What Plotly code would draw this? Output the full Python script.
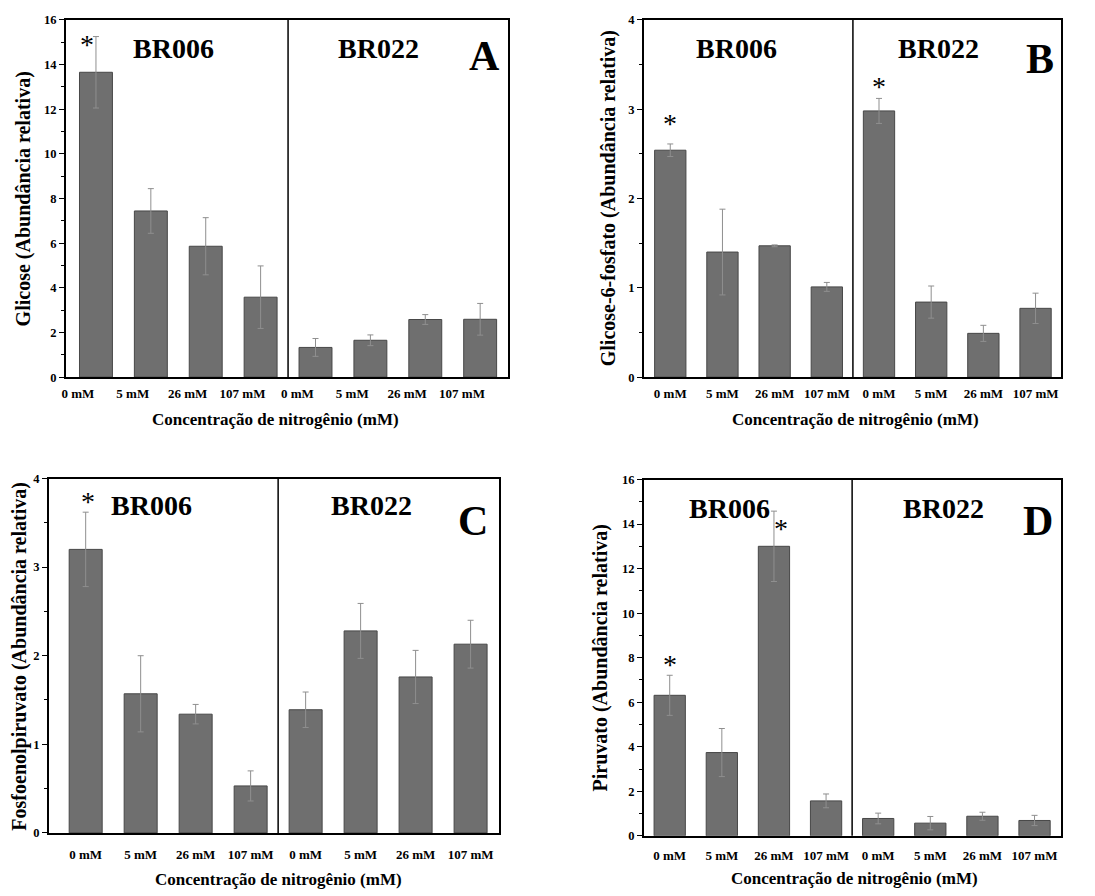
import plotly.graph_objects as go

# ---- data ----
concentracoes = ["0 mM", "5 mM", "26 mM", "107 mM", "0 mM", "5 mM", "26 mM", "107 mM"]

glicose = [13.65, 7.44, 5.86, 3.58, 1.33, 1.65, 2.58, 2.59]
glicose_err = [1.60, 1.00, 1.28, 1.40, 0.40, 0.24, 0.22, 0.71]

glicose6p = [2.54, 1.40, 1.47, 1.01, 2.98, 0.84, 0.49, 0.77]
glicose6p_err = [0.07, 0.48, 0.01, 0.05, 0.14, 0.18, 0.09, 0.17]

fosfoenolpiruvato = [3.20, 1.57, 1.34, 0.53, 1.39, 2.28, 1.76, 2.13]
fosfoenolpiruvato_err = [0.42, 0.43, 0.11, 0.17, 0.20, 0.31, 0.30, 0.27]

piruvato = [6.31, 3.74, 13.00, 1.57, 0.78, 0.57, 0.88, 0.69]
piruvato_err = [0.90, 1.08, 1.58, 0.31, 0.24, 0.30, 0.18, 0.23]

# significance marks: (bar index, x nudge, height)
sig_a = [(0, -0.17, 14.9)]
sig_b = [(0, 0.0, 2.84), (4, 0.0, 3.25)]
sig_c = [(0, 0.05, 3.74)]
sig_d = [(0, 0.0, 7.69), (2, 0.13, 13.79)]

W, H = 1095, 896
FONT = "Liberation Serif"
BAR_FILL = "#6f6f6f"
BAR_EDGE = "#474747"
ERR_COLOR = "#8f8f8f"


def fx(px):
    return px / W


def fy(py):
    return 1 - py / H


panels = [
    dict(vals=glicose, err=glicose_err, sig=sig_a, letter="A",
         ytitle="Glicose (Abundância relativa)",
         box=(62, 13, 506, 376), xr=[-0.55, 7.51], tshift=-0.33, standoff=4,
         ymax=16, dtick=2, minor=1,
         letter_xy=(482, 50), br006_xy=(170, 42), br022_xy=(376, 42),
         ytitle_x=20, xtitle_xy=(272, 419)),
    dict(vals=glicose6p, err=glicose6p_err, sig=sig_b, letter="B",
         ytitle="Glicose-6-fosfato (Abundância relativa)",
         box=(642, 13, 1061, 376), xr=[-0.51, 7.49], tshift=0.0, standoff=4,
         ymax=4, dtick=1, minor=0.5,
         letter_xy=(1040, 53), br006_xy=(735, 42), br022_xy=(938, 42),
         ytitle_x=607, xtitle_xy=(855, 419)),
    dict(vals=fosfoenolpiruvato, err=fosfoenolpiruvato_err, sig=sig_c, letter="C",
         ytitle="Fosfoenolpiruvato (Abundância relativa)",
         box=(45, 479, 497, 839), xr=[-0.67, 7.52], tshift=0.0, standoff=9,
         ymax=4, dtick=1, minor=0.5,
         letter_xy=(471, 522), br006_xy=(148, 506), br022_xy=(369, 506),
         ytitle_x=16, xtitle_xy=(276, 886)),
    dict(vals=piruvato, err=piruvato_err, sig=sig_d, letter="D",
         ytitle="Piruvato (Abundância relativa)",
         box=(642, 480, 1061, 842), xr=[-0.5, 7.51], tshift=0.0, standoff=7,
         ymax=16, dtick=2, minor=1,
         letter_xy=(1038, 522), br006_xy=(728, 509), br022_xy=(943, 509),
         ytitle_x=599, xtitle_xy=(854, 885)),
]

fig = go.Figure()
annotations = []
shapes = []
positions = list(range(len(concentracoes)))

for i, p in enumerate(panels, start=1):
    sfx = "" if i == 1 else str(i)
    xa, ya = "x" + sfx, "y" + sfx
    x0, y0, x1, y1 = p["box"]

    fig.add_trace(go.Bar(
        x=positions, y=p["vals"], width=0.6,
        marker=dict(color=BAR_FILL, line=dict(color=BAR_EDGE, width=1)),
        error_y=dict(type="data", array=p["err"], visible=True,
                     color=ERR_COLOR, thickness=1, width=3),
        xaxis=xa, yaxis=ya, showlegend=False,
    ))

    fig.layout["xaxis" + sfx] = dict(
        domain=[fx(x0), fx(x1)], anchor=ya, range=p["xr"],
        tickmode="array",
        tickvals=[k + p["tshift"] for k in positions],
        ticktext=concentracoes,
        ticks="", showgrid=False, zeroline=False,
        showline=True, linecolor="black", linewidth=1.5, mirror=True,
        tickfont=dict(family=FONT, size=13, color="black", weight="bold"),
        ticklabelstandoff=p["standoff"],
    )
    fig.layout["yaxis" + sfx] = dict(
        domain=[fy(y1), fy(y0)], anchor=xa, range=[0, p["ymax"]],
        dtick=p["dtick"], ticks="outside", ticklen=5, tickwidth=1.2,
        tickcolor="black",
        minor=dict(dtick=p["minor"], ticks="outside", ticklen=3,
                   tickwidth=1.2, tickcolor="black", showgrid=False),
        showgrid=False, zeroline=False,
        showline=True, linecolor="black", linewidth=1.5, mirror=True,
        tickfont=dict(family=FONT, size=12.5, color="black", weight="bold"),
    )

    # separator between the two genotypes
    shapes.append(dict(type="line", xref=xa, yref=ya + " domain",
                       x0=3.5, x1=3.5, y0=0, y1=1,
                       line=dict(color="black", width=1.5)))

    # genotype labels and panel letter
    for txt, (tx, ty), size in (("BR006", p["br006_xy"], 28),
                                ("BR022", p["br022_xy"], 28),
                                (p["letter"], p["letter_xy"], 42)):
        annotations.append(dict(
            text=txt, x=fx(tx), y=fy(ty), xref="paper", yref="paper",
            xanchor="center", yanchor="middle", showarrow=False,
            font=dict(family=FONT, size=size, color="black", weight="bold")))

    # significance asterisks
    for idx, dx, yv in p["sig"]:
        annotations.append(dict(
            text="*", x=positions[idx] + dx, y=yv, xref=xa, yref=ya,
            xanchor="center", yanchor="middle", showarrow=False,
            font=dict(family=FONT, size=28, color="black")))

    # axis titles
    annotations.append(dict(
        text=p["ytitle"], x=fx(p["ytitle_x"]), y=fy((y0 + y1) / 2),
        xref="paper", yref="paper", textangle=-90,
        xanchor="center", yanchor="middle", showarrow=False,
        font=dict(family=FONT, size=20, color="black", weight="bold")))
    tx, ty = p["xtitle_xy"]
    annotations.append(dict(
        text="Concentração de nitrogênio (mM)", x=fx(tx), y=fy(ty),
        xref="paper", yref="paper",
        xanchor="center", yanchor="middle", showarrow=False,
        font=dict(family=FONT, size=17, color="black", weight="bold")))

fig.update_layout(
    width=W, height=H,
    margin=dict(l=0, r=0, t=0, b=0),
    paper_bgcolor="white", plot_bgcolor="white",
    bargap=0.4,
    annotations=annotations, shapes=shapes,
)

fig.write_html("out.html")
